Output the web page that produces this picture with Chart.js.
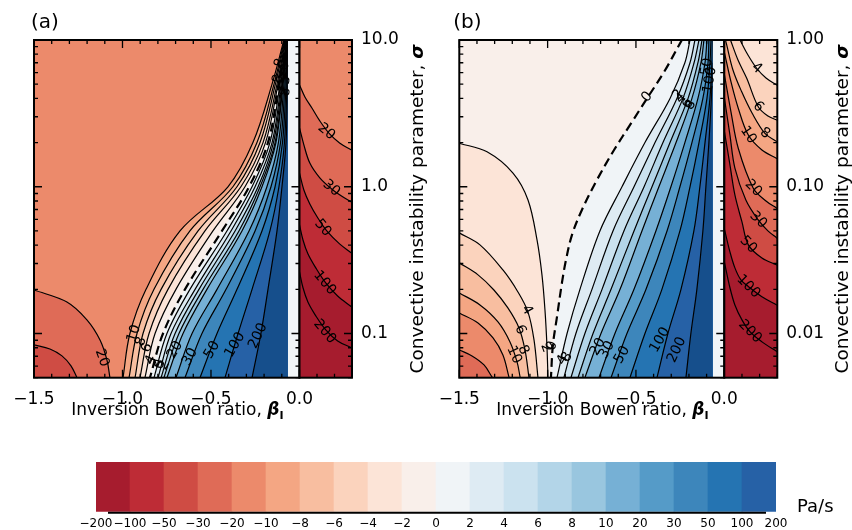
<!DOCTYPE html>
<html>
<head>
<meta charset="utf-8">
<script src="https://cdn.jsdelivr.net/npm/chart.js@4/dist/chart.umd.min.js"></script>
<style>
  html, body { margin: 0; padding: 0; background: #fff; }
  #wrap { position: relative; width: 852px; height: 530px; overflow: hidden; }
  #wrap canvas { position: absolute; left: 0; }
</style>
</head>
<body>
<div id="wrap">
  <canvas id="mainA" width="852" height="440" style="top:0"></canvas>
  <canvas id="sideA" width="852" height="440" style="top:0"></canvas>
  <canvas id="mainB" width="852" height="440" style="top:0"></canvas>
  <canvas id="sideB" width="852" height="440" style="top:0"></canvas>
  <canvas id="cbar" width="852" height="90" style="top:440px"></canvas>
</div>
<script>
const FONT = '"DejaVu Sans", "Liberation Sans", sans-serif';
const WEIGHT = 'normal';
const tickFont = {family: FONT, size: 17, weight: WEIGHT};

// colour levels (Pa/s) and the 20 band colours between them
const levels = [-200, -100, -50, -30, -20, -10, -8, -6, -4, -2, 0, 2, 4, 6, 8, 10, 20, 30, 50, 100, 200];
const bandColors = ['#a61c2e', '#be2c36', '#cf4c44', '#df6b57', '#ec8a6b', '#f4a683', '#f8bea0', '#fbd3bd',
  '#fce4d7', '#f9efea', '#f0f4f7', '#deebf3', '#cbe2ef', '#b3d5e8', '#99c6df', '#76b0d5', '#559bc8',
  '#3d86bb', '#2574b2', '#2661a6'];
const overColor = '#164f8c';
const stripColor = '#f1f5f8';

// axis ticks
const xTicksMain = [-1.5, -1.0, -0.5];
const xTicksSide = [0.0];
const yTicksA = [0.1, 1, 10];
const yTicksB = [0.01, 0.1, 1];

// ---- panel (a): fan of contours, beta read at fixed sigma rows
const sigmaRowsA = [0.05, 0.1, 0.2, 0.5, 1, 2, 5, 10];
const fanLevelsA = [-10, -8, -6, -4, -2, 0, 2, 4, 6, 8, 10, 20, 30, 50, 100, 200];
const fanBetaA = [
  [-0.997, -0.958, -0.867, -0.675, -0.404, -0.263, -0.155, -0.088],
  [-0.963, -0.918, -0.822, -0.619, -0.376, -0.240, -0.144, -0.085],
  [-0.929, -0.884, -0.782, -0.573, -0.353, -0.223, -0.136, -0.082],
  [-0.901, -0.850, -0.743, -0.534, -0.331, -0.206, -0.127, -0.079],
  [-0.873, -0.816, -0.698, -0.489, -0.308, -0.192, -0.121, -0.076],
  [-0.845, -0.771, -0.647, -0.438, -0.285, -0.178, -0.116, -0.076],
  [-0.822, -0.749, -0.619, -0.410, -0.268, -0.167, -0.110, -0.073],
  [-0.799, -0.726, -0.590, -0.387, -0.251, -0.155, -0.104, -0.073],
  [-0.782, -0.703, -0.568, -0.364, -0.234, -0.147, -0.099, -0.071],
  [-0.766, -0.681, -0.545, -0.342, -0.223, -0.138, -0.096, -0.071],
  [-0.749, -0.658, -0.523, -0.325, -0.212, -0.133, -0.093, -0.071],
  [-0.698, -0.607, -0.466, -0.285, -0.184, -0.119, -0.088, -0.071],
  [-0.647, -0.551, -0.415, -0.251, -0.161, -0.107, -0.082, -0.068],
  [-0.562, -0.466, -0.353, -0.212, -0.138, -0.096, -0.076, -0.068],
  [-0.421, -0.347, -0.268, -0.167, -0.116, -0.085, -0.071, -0.067],
  [-0.268, -0.218, -0.178, -0.127, -0.099, -0.076, -0.068, -0.066]
];
// lower-left corner of (a)
const cornerLevelsA = [-20, -30];
const cornerBetaA = [[-1.5, -1.314, -1.201, -1.127, -1.088, -1.071], [-1.5, -1.410, -1.342, -1.291, -1.257]];
const cornerSigmaA = [[0.198, 0.164, 0.124, 0.0904, 0.0661, 0.05], [0.0836, 0.0785, 0.0704, 0.0602, 0.05]];
// right strip of (a), beta > 0
const sideLevelsA = [-20, -30, -50, -100, -200];
const sideBetaA = [
  [0, 0.031, 0.071, 0.116, 0.172, 0.229, 0.297],
  [0, 0.025, 0.059, 0.116, 0.184, 0.240, 0.297],
  [0, 0.025, 0.059, 0.105, 0.161, 0.229, 0.297],
  [0, 0.020, 0.048, 0.093, 0.150, 0.218, 0.297],
  [0, 0.020, 0.048, 0.093, 0.150, 0.218, 0.297]
];
const sideSigmaA = [
  [4.94, 4.09, 3.44, 2.81, 2.29, 1.99, 1.78],
  [2.52, 1.93, 1.45, 1.15, 0.966, 0.865, 0.788],
  [1.24, 0.951, 0.764, 0.613, 0.492, 0.408, 0.354],
  [0.549, 0.434, 0.349, 0.280, 0.221, 0.180, 0.152],
  [0.263, 0.205, 0.164, 0.132, 0.106, 0.089, 0.080]
];

// ---- panel (b)
const sigmaRowsB = [0.005, 0.01, 0.02, 0.05, 0.1, 0.2, 0.4, 0.7, 1];
const fanLevelsB = [2, 4, 6, 8, 10, 20, 30, 50, 100, 200];
const fanBetaB = [
  [-0.947, -0.890, -0.817, -0.704, -0.579, -0.449, -0.307, -0.223, -0.194],
  [-0.908, -0.840, -0.749, -0.630, -0.511, -0.392, -0.268, -0.194, -0.166],
  [-0.868, -0.789, -0.692, -0.568, -0.454, -0.347, -0.234, -0.171, -0.143],
  [-0.828, -0.743, -0.641, -0.511, -0.409, -0.307, -0.205, -0.149, -0.126],
  [-0.789, -0.698, -0.590, -0.466, -0.370, -0.273, -0.183, -0.132, -0.115],
  [-0.709, -0.619, -0.511, -0.387, -0.302, -0.223, -0.149, -0.109, -0.098],
  [-0.641, -0.551, -0.443, -0.324, -0.251, -0.183, -0.121, -0.092, -0.087],
  [-0.534, -0.449, -0.353, -0.251, -0.194, -0.143, -0.098, -0.081, -0.075],
  [-0.381, -0.319, -0.245, -0.172, -0.138, -0.109, -0.081, -0.070, -0.067],
  [-0.217, -0.189, -0.155, -0.121, -0.104, -0.087, -0.073, -0.064, -0.064]
];
// zero contour (dashed)
const zeroBetaB = [-0.981, -0.970, -0.947, -0.919, -0.896, -0.862, -0.806, -0.721, -0.624, -0.523, -0.432, -0.341, -0.240];
const zeroSigmaB = [0.00506, 0.00836, 0.01297, 0.02213, 0.0317, 0.0470, 0.0695, 0.1112, 0.178, 0.276, 0.409, 0.605, 1];
// negative contours in the lower-left of (b)
const leftLevelsB = [-2, -4, -6, -8, -10, -20];
const leftBetaB = [
  [-1.5, -1.343, -1.196, -1.111, -1.060, -1.032, -1.015, -1.004, -0.998],
  [-1.5, -1.383, -1.253, -1.168, -1.111, -1.077, -1.055],
  [-1.5, -1.394, -1.304, -1.225, -1.162, -1.128, -1.106],
  [-1.5, -1.383, -1.281, -1.213, -1.173, -1.156],
  [-1.5, -1.394, -1.309, -1.253, -1.219],
  [-1.5, -1.428, -1.360, -1.315]
];
const leftSigmaB = [
  [0.198, 0.173, 0.124, 0.0813, 0.0434, 0.0251, 0.01448, 0.00836, 0.0050],
  [0.0485, 0.0402, 0.0271, 0.0192, 0.0140, 0.00904, 0.00506],
  [0.0303, 0.0251, 0.0198, 0.01494, 0.01092, 0.00773, 0.00506],
  [0.0189, 0.01566, 0.0120, 0.00877, 0.00641, 0.00506],
  [0.0138, 0.0118, 0.00933, 0.00715, 0.00506],
  [0.00773, 0.00704, 0.00611, 0.00506]
];
// right strip of (b)
const sideLevelsB = [-4, -6, -8, -10, -20, -30, -50, -100, -200];
const sideBetaB = [
  [0.0889, 0.134, 0.183, 0.236, 0.297],
  [0.035, 0.0775, 0.127, 0.192, 0.247, 0.297],
  [0.0136, 0.049, 0.098, 0.157, 0.230, 0.297],
  [0.004, 0.038, 0.079, 0.136, 0.213, 0.297],
  [0.004, 0.038, 0.079, 0.164, 0.236, 0.297],
  [0.004, 0.032, 0.060, 0.122, 0.192, 0.247, 0.297],
  [0.004, 0.032, 0.060, 0.100, 0.136, 0.213, 0.297],
  [0.004, 0.032, 0.060, 0.094, 0.136, 0.213, 0.297],
  [0.004, 0.032, 0.060, 0.100, 0.145, 0.213, 0.297]
];
const sideSigmaB = [
  [1, 0.790, 0.642, 0.551, 0.494],
  [1, 0.731, 0.548, 0.351, 0.303, 0.285],
  [0.925, 0.625, 0.445, 0.318, 0.231, 0.203],
  [0.790, 0.518, 0.343, 0.225, 0.178, 0.156],
  [0.551, 0.323, 0.183, 0.0977, 0.080, 0.0714],
  [0.378, 0.225, 0.134, 0.0813, 0.0594, 0.0500, 0.0448],
  [0.225, 0.141, 0.0879, 0.0576, 0.0402, 0.0327, 0.0293],
  [0.0495, 0.0360, 0.0280, 0.0232, 0.0209, 0.0178, 0.01566],
  [0.0293, 0.0205, 0.01566, 0.01239, 0.0103, 0.00877, 0.00753]
];

// contour labels: text, beta, sigma, angle
const labelsMainA = [
  ['20', -1.116, 0.0682, 70], ['10', -0.935, 0.100, -72], ['8', -0.895, 0.088, -70], ['6', -0.862, 0.080, -68],
  ['4', -0.84, 0.066, -65], ['2', -0.812, 0.063, -65], ['0', -0.79, 0.0615, -62], ['2', -0.765, 0.061, -62],
  ['20', -0.703, 0.0773, -60], ['30', -0.619, 0.0693, -60], ['50', -0.494, 0.0773, -60],
  ['100', -0.364, 0.0836, -60], ['200', -0.234, 0.0963, -65],
  ['8', -0.110, 6.97, -75], ['8', -0.121, 5.43, -75], ['6', -0.085, 6.65, -80], ['5', -0.078, 5.35, -80], ['8', -0.078, 4.42, -80]
];
const labelsSideA = [['20', 0.154, 2.37, 40], ['30', 0.182, 0.977, 40], ['50', 0.133, 0.524, 50],
  ['100', 0.144, 0.221, 50], ['200', 0.144, 0.103, 50]];
const labelsMainB = [
  ['0', -0.437, 0.409, -50], ['2', -0.262, 0.422, -45], ['4', -0.245, 0.40, -45], ['6', -0.205, 0.367, -55],
  ['8', -0.190, 0.36, -55], ['50', -0.098, 0.655, -80], ['100', -0.081, 0.534, -80],
  ['4', -1.117, 0.01448, 60], ['6', -1.156, 0.01059, 65], ['10', -1.19, 0.00715, 65], ['8', -1.139, 0.00773, 65],
  ['2', -1.009, 0.00798, 70], ['0', -0.975, 0.00824, -70], ['4', -0.915, 0.0066, -60], ['8', -0.89, 0.0069, -60],
  ['20', -0.715, 0.00811, -60], ['30', -0.664, 0.00773, -60], ['50', -0.579, 0.00715, -60],
  ['100', -0.364, 0.00904, -60], ['200', -0.268, 0.00773, -65]
];
const labelsSideB = [['4', 0.183, 0.641, 40], ['6', 0.192, 0.351, 45], ['10', 0.136, 0.225, 55], ['8', 0.230, 0.231, 35],
  ['20', 0.164, 0.0977, 45], ['30', 0.192, 0.0594, 45], ['50', 0.136, 0.0402, 45], ['100', 0.136, 0.0209, 45],
  ['200', 0.145, 0.0103, 45]];

// ---- helpers
const TENSION = 0.35;
// far-away corners used to close the filled areas (outside every axis range)
const FAR = {TR: {x: 3, y: 1e6}, BR: {x: 3, y: 1e-6}, BL: {x: -4, y: 1e-6}, TL: {x: -4, y: 1e6}};

const fmt = (v, d) => (v < 0 ? '\u2212' : '') + Math.abs(v).toFixed(d);
const bandAbove = l => { const i = levels.indexOf(l); return i < bandColors.length ? bandColors[i] : overColor; };
const bandBelow = l => bandColors[Math.max(levels.indexOf(l) - 1, 0)];

// continue a contour one step past each end so it leaves the plot cleanly
function extend(pts) {
  const n = pts.length;
  const ext = (a, b) => ({x: 2 * a.x - b.x, y: a.y * a.y / b.y});
  return [ext(pts[0], pts[1])].concat(pts, [ext(pts[n - 1], pts[n - 2])]);
}
function curve(betas, sigmas) {
  return extend(betas.map((b, i) => ({x: b, y: sigmas[i]})));
}
function group(lvls, betas, sigmas, higher, close) {
  return {higher, close, curves: lvls.map((l, i) => ({level: l, pts: curve(betas[i], Array.isArray(sigmas[0]) ? sigmas[i] : sigmas)}))};
}

function buildDatasets(groups) {
  const fills = [], lines = [];
  groups.forEach(g => g.curves.forEach(c => {
    fills.push({
      data: c.pts.concat(g.close.map(k => FAR[k])),
      backgroundColor: g.higher ? bandAbove(c.level) : bandBelow(c.level),
      borderColor: 'rgba(0,0,0,0)', borderWidth: 0, fill: 'shape', pointRadius: 0, tension: TENSION, clip: 0
    });
    lines.push({
      data: c.pts, borderColor: '#000', borderWidth: c.level === 0 ? 2.2 : 1.2,
      borderDash: c.level === 0 ? [9, 5] : [], fill: false, pointRadius: 0, tension: TENSION, clip: 0
    });
  }));
  return fills.concat(lines).map((d, i) => Object.assign(d, {order: -i}));
}

function richText(ctx, parts, cx, cy) {
  let w = 0;
  parts.forEach(p => { ctx.font = p[1]; w += ctx.measureText(p[0]).width; });
  let xx = cx - w / 2;
  ctx.textAlign = 'left';
  ctx.textBaseline = 'alphabetic';
  parts.forEach(p => { ctx.font = p[1]; ctx.fillText(p[0], xx, cy + (p[2] || 0)); xx += ctx.measureText(p[0]).width; });
}

function makePanelPlugin(cfg) {
  return {
    id: 'panel',
    beforeDatasetsDraw(chart) {
      const {ctx, chartArea: a, scales: {x}} = chart;
      ctx.save();
      ctx.fillStyle = cfg.base;
      ctx.fillRect(a.left, a.top, a.right - a.left, a.bottom - a.top);
      if (cfg.strip) {
        ctx.fillStyle = stripColor;
        ctx.fillRect(a.right, a.top, x.getPixelForValue(0) - a.right, a.bottom - a.top);
      }
      ctx.restore();
    },
    afterDraw(chart) {
      const {ctx, chartArea: a, scales: {x, y}} = chart;
      ctx.save();
      ctx.fillStyle = '#000';
      ctx.font = `${WEIGHT} 14px ${FONT}`;
      ctx.textAlign = 'center';
      ctx.textBaseline = 'middle';
      cfg.labels.forEach(([t, b, s, ang]) => {
        ctx.save();
        ctx.translate(x.getPixelForValue(b), y.getPixelForValue(s));
        ctx.rotate(ang * Math.PI / 180);
        ctx.fillText(t, 0, 0);
        ctx.restore();
      });
      // frame and inward ticks
      const x0 = x.getPixelForValue(cfg.frame[0]), x1 = x.getPixelForValue(cfg.frame[1]);
      ctx.strokeStyle = '#000';
      ctx.lineWidth = 2;
      ctx.strokeRect(x0, a.top, x1 - x0, a.bottom - a.top);
      ctx.lineWidth = 1.3;
      ctx.beginPath();
      for (let k = Math.round(cfg.frame[0] * 10); k <= Math.round(cfg.frame[1] * 10); k++) {
        const px = x.getPixelForValue(k / 10), len = k % 5 === 0 ? 8 : 4;
        ctx.moveTo(px, a.bottom); ctx.lineTo(px, a.bottom - len);
        ctx.moveTo(px, a.top); ctx.lineTo(px, a.top + len);
      }
      const lo = Math.floor(Math.log10(cfg.yMin) + 1e-9), hi = Math.ceil(Math.log10(cfg.yMax) - 1e-9);
      for (let e = lo; e <= hi; e++) {
        for (let m = 1; m < 10; m++) {
          const v = m * Math.pow(10, e);
          if (v < cfg.yMin * 0.999 || v > cfg.yMax * 1.001) continue;
          const py = y.getPixelForValue(v), len = m === 1 ? 8 : 4;
          if (cfg.ticksLeft) { ctx.moveTo(x0, py); ctx.lineTo(x0 + len, py); }
          ctx.moveTo(x1, py); ctx.lineTo(x1 - len, py);
        }
      }
      ctx.stroke();
      // titles
      if (cfg.letter) {
        ctx.font = `${WEIGHT} 20px ${FONT}`;
        ctx.textAlign = 'left';
        ctx.textBaseline = 'alphabetic';
        ctx.fillText(cfg.letter, a.left + cfg.letterDx, a.top - 12);
        richText(ctx, [
          ['Inversion Bowen ratio, ', `${WEIGHT} 17px ${FONT}`],
          ['\u03b2', `italic bold 17px ${FONT}`],
          ['I', `bold 11px ${FONT}`, 4]
        ], x.getPixelForValue(-0.69), a.bottom + 37);
      }
      if (cfg.showY) {
        ctx.save();
        ctx.translate(a.right + 71, (a.top + a.bottom) / 2);
        ctx.rotate(-Math.PI / 2);
        richText(ctx, [
          ['Convective instability parameter, ', `${WEIGHT} 18.5px ${FONT}`],
          ['\u03c3', `italic bold 18.5px ${FONT}`]
        ], 0, 0);
        ctx.restore();
      }
      ctx.restore();
    }
  };
}

function panelChart(id, cfg) {
  return new Chart(document.getElementById(id), {
    type: 'line',
    data: {datasets: buildDatasets(cfg.groups)},
    options: {
      responsive: false,
      animation: false,
      events: [],
      layout: {padding: cfg.padding},
      elements: {line: {capBezierPoints: false}, point: {radius: 0}},
      plugins: {legend: {display: false}, tooltip: {enabled: false}},
      scales: {
        x: {
          type: 'linear', min: cfg.xMin, max: cfg.xMax,
          grid: {display: false, drawTicks: false}, border: {display: false},
          afterBuildTicks: s => { s.ticks = cfg.xTicks.map(v => ({value: v})); },
          afterFit: s => { s.height = 62.3; },
          ticks: {padding: 12, autoSkip: false, maxRotation: 0, color: '#000', font: tickFont, callback: v => fmt(v, 1)}
        },
        y: {
          type: 'logarithmic', min: cfg.yMin, max: cfg.yMax, position: 'right', display: cfg.showY,
          grid: {display: false, drawTicks: false}, border: {display: false},
          afterBuildTicks: s => { s.ticks = cfg.yTicks.map(v => ({value: v})); },
          afterFit: s => { s.width = cfg.yWidth; },
          ticks: {padding: 9, autoSkip: false, color: '#000', font: tickFont, callback: v => fmt(v, cfg.yDigits)}
        }
      }
    },
    plugins: [makePanelPlugin(cfg)]
  });
}

const MAIN_END = -0.066;   // right end of the computed field, before the blank strip

panelChart('mainA', {
  groups: [
    group(cornerLevelsA, cornerBetaA, cornerSigmaA, false, ['BL']),
    group(fanLevelsA, fanBetaA, sigmaRowsA, true, ['TR', 'BR', 'BL'])
  ],
  base: bandColors[4], strip: true, labels: labelsMainA, frame: [-1.5, 0], ticksLeft: true,
  letter: '(a)', letterDx: -3,
  padding: {left: 34, right: 852 - 287.8, top: 40, bottom: 0},
  xMin: -1.5, xMax: MAIN_END, xTicks: xTicksMain, yMin: 0.05, yMax: 10, yTicks: yTicksA, yDigits: 1, showY: false, yWidth: 0
});
panelChart('sideA', {
  groups: [group(sideLevelsA, sideBetaA, sideSigmaA, false, ['BR', 'BL', 'TL'])],
  base: bandColors[4], strip: false, labels: labelsSideA, frame: [0, 0.3], ticksLeft: false,
  padding: {left: 299.5, right: 852 - 352 - 78, top: 40, bottom: 0},
  xMin: 0, xMax: 0.3, xTicks: xTicksSide, yMin: 0.05, yMax: 10, yTicks: yTicksA, yDigits: 1, showY: true, yWidth: 78
});
panelChart('mainB', {
  groups: [
    group(leftLevelsB, leftBetaB, leftSigmaB, false, ['BL']),
    {higher: true, close: ['TR', 'BR', 'BL'], curves: [{level: 0, pts: curve(zeroBetaB, zeroSigmaB)}]},
    group(fanLevelsB, fanBetaB, sigmaRowsB, true, ['TR', 'BR', 'BL'])
  ],
  base: bandColors[9], strip: true, labels: labelsMainB, frame: [-1.5, 0], ticksLeft: true,
  letter: '(b)', letterDx: -6,
  padding: {left: 459.3, right: 852 - 712.6, top: 40, bottom: 0},
  xMin: -1.5, xMax: MAIN_END, xTicks: xTicksMain, yMin: 0.005, yMax: 1, yTicks: yTicksB, yDigits: 2, showY: false, yWidth: 0
});
panelChart('sideB', {
  groups: [group(sideLevelsB, sideBetaB, sideSigmaB, false, ['BR', 'BL', 'TL'])],
  base: bandColors[8], strip: false, labels: labelsSideB, frame: [0, 0.3], ticksLeft: false,
  padding: {left: 724.3, right: 0, top: 40, bottom: 0},
  xMin: 0, xMax: 0.3, xTicks: xTicksSide, yMin: 0.005, yMax: 1, yTicks: yTicksB, yDigits: 2, showY: true, yWidth: 74.7
});

// ---- colour bar
const cbarPlugin = {
  id: 'cbarDeco',
  afterDraw(chart) {
    const {ctx, chartArea: a} = chart;
    ctx.save();
    ctx.strokeStyle = '#000';
    ctx.lineWidth = 2;
    ctx.beginPath();
    ctx.moveTo(a.left + 12, a.bottom + 1);
    ctx.lineTo(a.right - 10, a.bottom + 1);
    ctx.stroke();
    ctx.fillStyle = '#000';
    ctx.font = `${WEIGHT} 18px ${FONT}`;
    ctx.textAlign = 'left';
    ctx.textBaseline = 'alphabetic';
    ctx.fillText('Pa/s', a.right + 21, a.bottom);
    ctx.restore();
  }
};
new Chart(document.getElementById('cbar'), {
  type: 'bar',
  data: {
    datasets: [{
      data: bandColors.map((c, i) => ({x: i + 0.5, y: 1})),
      backgroundColor: bandColors, borderWidth: 0, barPercentage: 1, categoryPercentage: 1
    }]
  },
  options: {
    responsive: false,
    animation: false,
    events: [],
    layout: {padding: {left: 96, right: 76, top: 22, bottom: 0}},
    plugins: {legend: {display: false}, tooltip: {enabled: false}},
    scales: {
      x: {
        type: 'linear', min: 0, max: bandColors.length, offset: false,
        grid: {display: false, drawTicks: false}, border: {display: false},
        afterBuildTicks: s => { s.ticks = levels.map((v, i) => ({value: i})); },
        afterFit: s => { s.height = 18.3; },
        ticks: {autoSkip: false, maxRotation: 0, padding: 5, color: '#000',
          font: {family: FONT, size: 12, weight: WEIGHT}, callback: v => fmt(levels[v], 0)}
      },
      y: {display: false, min: 0, max: 1}
    }
  },
  plugins: [cbarPlugin]
});
</script>
</body>
</html>
